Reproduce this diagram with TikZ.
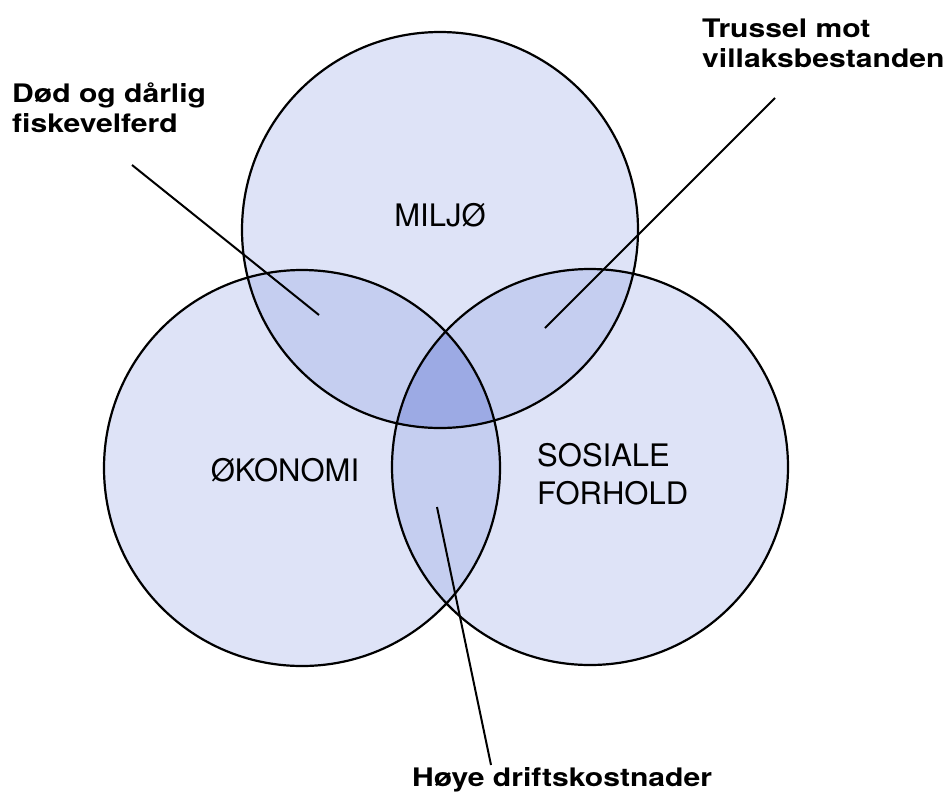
\documentclass[tikz,border=0pt]{standalone}
\usepackage{fontspec}
\setmainfont{TeX Gyre Heros}
\newfontfamily\calloutfont[FakeStretch=1.18]{TeX Gyre Heros}
\usepackage{xcolor}
\definecolor{vennOne}{RGB}{222,227,247}
\definecolor{vennTwo}{RGB}{197,206,240}
\definecolor{vennThree}{RGB}{156,170,228}

\begin{document}
\begin{tikzpicture}[x=1pt, y=-1pt,
  circlelabel/.style={font=\fontsize{31}{38}\selectfont, inner sep=0pt},
  callout/.style={font=\calloutfont\bfseries\fontsize{25.5}{30}\selectfont, align=left, inner sep=0pt},
  leader/.style={line width=2pt}]
  \useasboundingbox (0,0) rectangle (949,796);
  \def\rad{198pt}
  % Circle centres
  \coordinate (cm) at (440,230);
  \coordinate (co) at (302,468);
  \coordinate (cs) at (590,467);
  % Fills
  \fill[vennOne] (cm) circle (\rad) (co) circle (\rad) (cs) circle (\rad);
  \begin{scope}
    \clip (cm) circle (\rad);
    \fill[vennTwo] (co) circle (\rad) (cs) circle (\rad);
  \end{scope}
  \begin{scope}
    \clip (co) circle (\rad);
    \fill[vennTwo] (cs) circle (\rad);
  \end{scope}
  \begin{scope}
    \clip (cm) circle (\rad);
    \clip (co) circle (\rad);
    \fill[vennThree] (cs) circle (\rad);
  \end{scope}
  \draw[line width=2.2pt] (cm) circle (\rad) (co) circle (\rad) (cs) circle (\rad);
  % Circle labels
  \node[circlelabel] (miljo) at (440,215) {MILJØ};
  \node[circlelabel] (okonomi) at (285,470) {ØKONOMI};
  \node[circlelabel, align=left, anchor=west] (sosiale) at (537,474) {SOSIALE\\FORHOLD};
  % Callouts
  \node[callout, anchor=west] (velferd) at (12,108) {Død og dårlig\\fiskevelferd};
  \node[callout, anchor=west] (villaks) at (702,43) {Trussel mot\\villaksbestanden};
  \node[callout] (kostnad) at (562,780) {Høye driftskostnader};
  % Leader lines
  \coordinate (velferdstart) at (132,165);
  \coordinate (velferdtip) at (319,315);
  \coordinate (villaksstart) at (775,98);
  \coordinate (villakstip) at (545,328);
  \coordinate (kostnadstart) at (491,765);
  \coordinate (kostnadtip) at (437,507);
  \draw[leader] (velferdstart) -- (velferdtip);
  \draw[leader] (villaksstart) -- (villakstip);
  \draw[leader] (kostnadstart) -- (kostnadtip);
\end{tikzpicture}
\end{document}
